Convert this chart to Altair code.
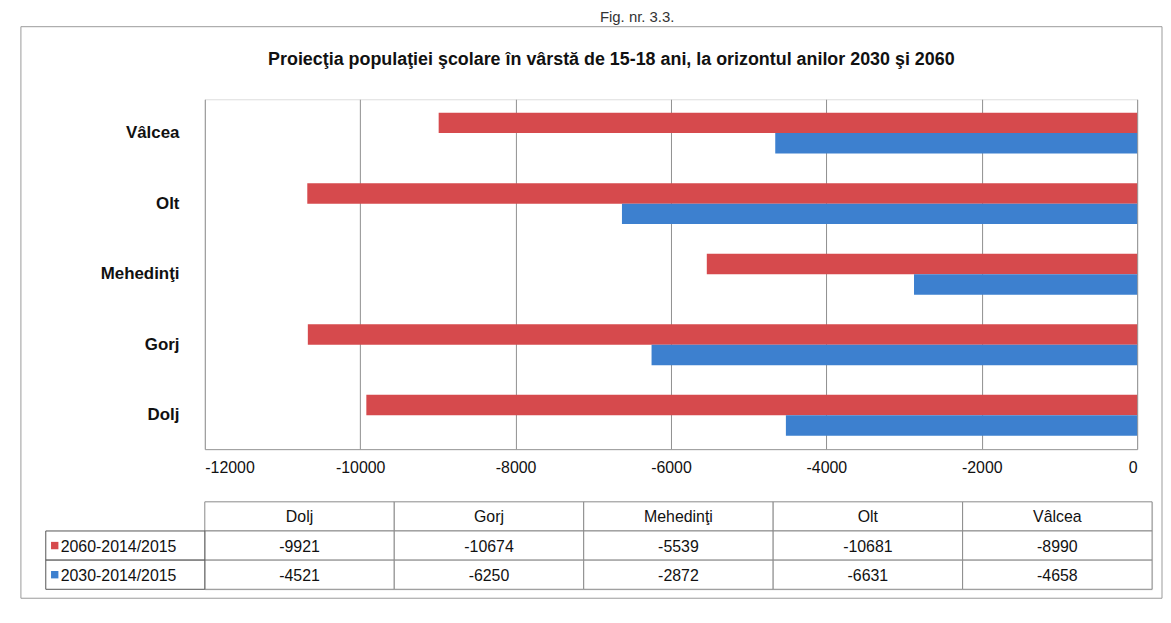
import altair as alt
import pandas as pd

counties = ["Dolj", "Gorj", "Mehedinţi", "Olt", "Vâlcea"]
series = ["2060-2014/2015", "2030-2014/2015"]
v2060 = [-9921, -10674, -5539, -10681, -8990]
v2030 = [-4521, -6250, -2872, -6631, -4658]
colors = ["#d64a4d", "#3d80cf"]

FONT = "Liberation Sans, Arial, sans-serif"

rows = []
for i, c in enumerate(counties):
    rows.append({"county": c, "series": series[0], "value": v2060[i]})
    rows.append({"county": c, "series": series[1], "value": v2030[i]})
df = pd.DataFrame(rows)

color_scale = alt.Scale(domain=series, range=colors)

bars = alt.Chart(df).mark_bar().encode(
    x=alt.X("value:Q", scale=alt.Scale(domain=[-12000, 0], nice=False),
            axis=alt.Axis(values=list(range(-12000, 1, 2000)), title=None, grid=True,
                          labelExpr="'' + datum.value",
                          gridColor="#8f8f8f", gridWidth=1, ticks=False, domainColor="#9a9a9a",
                          labelFont=FONT, labelFontSize=16, labelColor="#111", labelPadding=11)),
    y=alt.Y("county:N", sort=list(reversed(counties)),
            scale=alt.Scale(paddingInner=0.42, paddingOuter=0.19),
            axis=alt.Axis(title=None, ticks=False, domain=False, labelFont=FONT,
                          labelFontSize=17, labelFontWeight="bold", labelColor="#111",
                          labelPadding=26)),
    yOffset=alt.YOffset("series:N", sort=series),
    color=alt.Color("series:N", scale=color_scale, legend=None),
).properties(
    width=938, height=352,
    title=alt.TitleParams("Proiecţia populaţiei şcolare în vârstă de 15-18 ani, la orizontul anilor 2030 şi 2060",
                          font=FONT, fontSize=18, fontWeight="bold", color="#111",
                          anchor="middle", dx=-60, offset=30),
)

# table data
hdr = "hdr"
cells = []
for c in counties:
    cells.append({"county": c, "row": hdr, "label": c})
for i, c in enumerate(counties):
    cells.append({"county": c, "row": series[0], "label": str(v2060[i])})
    cells.append({"county": c, "row": series[1], "label": str(v2030[i])})
cdf = pd.DataFrame(cells)
row_domain = [hdr] + series

xs = alt.X("county:N", sort=counties, scale=alt.Scale(paddingInner=0, paddingOuter=0), axis=None)
ys = alt.Y("row:N", sort=row_domain, scale=alt.Scale(domain=row_domain, paddingInner=0, paddingOuter=0), axis=None)

base = alt.Chart(cdf)
cell_rect = base.mark_rect(fill="white", stroke="#8a8a8a", strokeWidth=1).encode(x=xs, y=ys)
cell_text = base.mark_text(font=FONT, fontSize=16, color="#111", dy=1).encode(x=xs, y=ys, text="label:N")

leg = pd.DataFrame({"row": series, "series": series})
lbase = alt.Chart(leg)
leg_rect = lbase.mark_rect(fill="white", stroke="#555", strokeWidth=1).encode(
    x=alt.value(-160), x2=alt.value(0), y=ys)
leg_sq = lbase.mark_square(size=55, opacity=1).encode(
    x=alt.value(-151), y=ys, color=alt.Color("series:N", scale=color_scale, legend=None))
leg_txt = lbase.mark_text(font=FONT, fontSize=16, color="#111", align="left", dy=1).encode(
    x=alt.value(-145), y=ys, text="row:N")

# outer frame of the figure (decoration)
frame = alt.Chart(pd.DataFrame({"f": [0]})).mark_rect(fill=None, stroke="#9a9a9a", strokeWidth=1).encode(
    x=alt.value(-185), x2=alt.value(963), y=alt.value(-478), y2=alt.value(97))

table = alt.layer(frame, cell_rect, cell_text, leg_rect, leg_sq, leg_txt).properties(width=953, height=88)

chart = alt.vconcat(bars, table, spacing=53, bounds="flush").properties(
    title=alt.TitleParams("Fig. nr. 3.3.", font=FONT, fontSize=15,
                          fontWeight="normal", color="#333", anchor="middle", dx=46, offset=1),
    padding={"left": 12, "top": 0, "right": 0, "bottom": 5},
).configure_view(stroke=None).configure(background="white")

chart.save("out.html", embed_options={"renderer": "svg", "actions": False})
